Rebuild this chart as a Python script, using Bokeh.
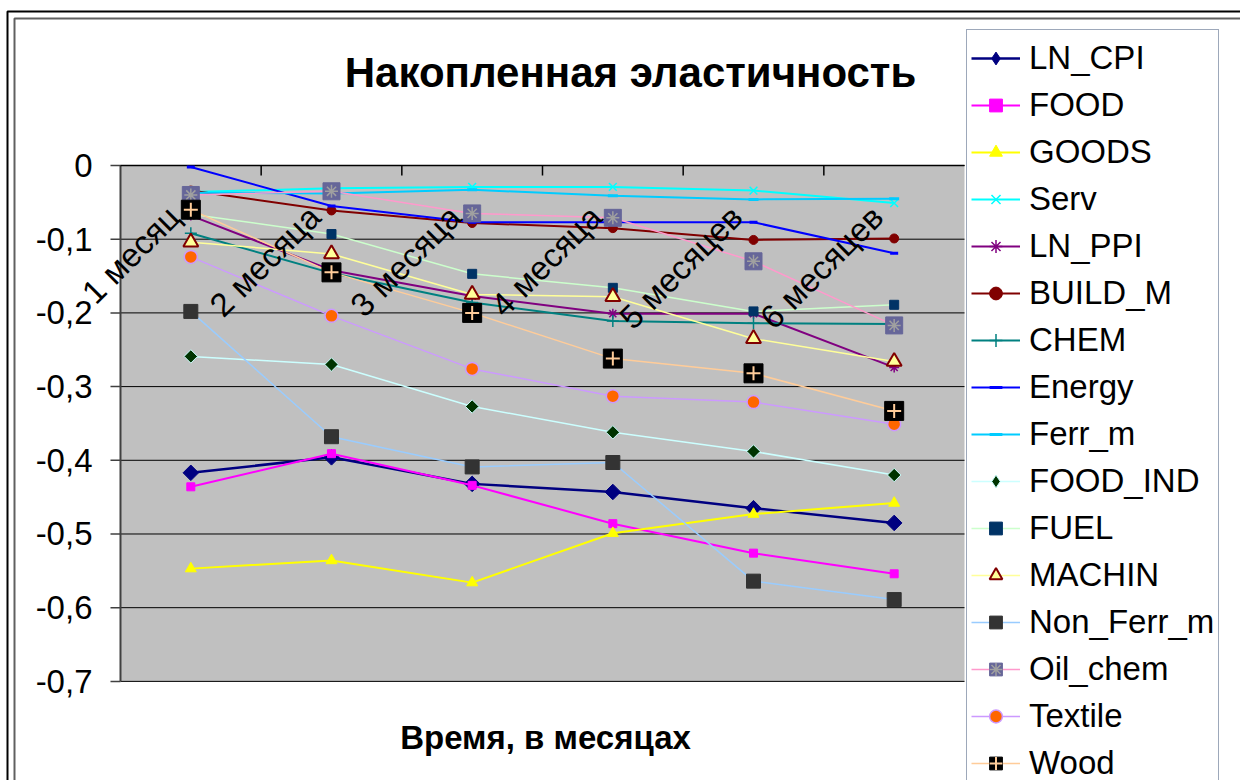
import math

from bokeh.core.properties import value
from bokeh.embed import file_html
from bokeh.models import BoxAnnotation, Label, Legend, LegendItem, Range1d
from bokeh.plotting import figure
from bokeh.resources import INLINE

# ---- data -------------------------------------------------------------
months = ["1 месяц", "2 месяца", "3 месяца", "4 месяца", "5 месяцев", "6 месяцев"]
y_ticks = [0.0, -0.1, -0.2, -0.3, -0.4, -0.5, -0.6, -0.7]

ln_cpi = [-0.417, -0.396, -0.432, -0.443, -0.465, -0.485]
food = [-0.436, -0.391, -0.434, -0.486, -0.526, -0.554]
goods = [-0.547, -0.536, -0.566, -0.499, -0.473, -0.458]
serv = [-0.036, -0.031, -0.029, -0.029, -0.034, -0.051]
ln_ppi = [-0.068, -0.142, -0.177, -0.201, -0.201, -0.274]
build_m = [-0.034, -0.061, -0.078, -0.085, -0.101, -0.099]
chem = [-0.092, -0.146, -0.186, -0.211, -0.214, -0.215]
energy = [-0.002, -0.055, -0.077, -0.077, -0.077, -0.119]
ferr_m = [-0.037, -0.038, -0.033, -0.041, -0.046, -0.045]
food_ind = [-0.259, -0.270, -0.327, -0.362, -0.388, -0.420]
fuel = [-0.066, -0.093, -0.147, -0.166, -0.198, -0.189]
machin = [-0.104, -0.120, -0.175, -0.178, -0.235, -0.266]
non_ferr_m = [-0.198, -0.368, -0.409, -0.403, -0.564, -0.589]
oil_chem = [-0.040, -0.035, -0.065, -0.071, -0.130, -0.217]
textile = [-0.124, -0.204, -0.276, -0.313, -0.321, -0.351]
wood = [-0.060, -0.145, -0.200, -0.262, -0.282, -0.333]

FONT = "Liberation Sans"
DIAMOND = math.pi / 4  # squares turned on their corner

# name, values, line colour, line width, marker layers, optional legend key
series = [
    ("LN_CPI", ln_cpi, "#000080", 2.5,
     [dict(marker="square", angle=DIAMOND, size=11, fill_color="#000080", line_color="#000080")],
     dict(marker="diamond", fill_color="#000080", line_color="#000080")),
    ("FOOD", food, "#FF00FF", 2, [dict(marker="square", size=8, fill_color="#FF00FF", line_color="#FF00FF")], None),
    ("GOODS", goods, "#FFFF00", 2, [dict(marker="triangle", size=11, fill_color="#FFFF00", line_color="#FFFF00")], None),
    ("Serv", serv, "#00FFFF", 2, [dict(marker="x", size=11, line_color="#00FFFF", line_width=1.5)], None),
    ("LN_PPI", ln_ppi, "#800080", 2, [dict(marker="asterisk", size=10, line_color="#800080", line_width=1.5)], None),
    ("BUILD_M", build_m, "#800000", 2, [dict(marker="circle", size=9, fill_color="#800000", line_color="#800000")], None),
    ("CHEM", chem, "#008080", 2, [dict(marker="cross", size=12, line_color="#008080", line_width=1.5)], None),
    ("Energy", energy, "#0000FF", 2, [dict(marker="dash", size=8, line_color="#0000FF", line_width=3)], None),
    ("Ferr_m", ferr_m, "#00CCFF", 2, [dict(marker="dash", size=10, line_color="#00CCFF", line_width=3)], None),
    ("FOOD_IND", food_ind, "#CCFFFF", 1.5,
     [dict(marker="square", angle=DIAMOND, size=9.5, fill_color="#003300", line_color="#CCFFFF", line_width=1)],
     dict(marker="diamond", fill_color="#003300", line_color="#CCFFFF", line_width=1)),
    ("FUEL", fuel, "#CCFFCC", 1.5, [dict(marker="square", size=9, fill_color="#003366", line_color="#003366")], None),
    ("MACHIN", machin, "#FFFF99", 1.5, [dict(marker="triangle", size=15, fill_color="#FFFF99", line_color="#800000", line_width=2)], None),
    ("Non_Ferr_m", non_ferr_m, "#99CCFF", 1.5, [dict(marker="square", size=14, fill_color="#333333", line_color="#333333")], None),
    ("Oil_chem", oil_chem, "#FF99CC", 1.5, [dict(marker="square", size=17, fill_color="#666699", line_color="#666699"),
                                            dict(marker="asterisk", size=13, line_color="#A0A0A0", line_width=1.5)], None),
    ("Textile", textile, "#CC99FF", 1.5, [dict(marker="circle", size=13, fill_color="#FF6600", line_color="#CC99FF", line_width=1.5)], None),
    ("Wood", wood, "#FFCC99", 1.5, [dict(marker="square", size=19, fill_color="#000000", line_color="#000000"),
                                    dict(marker="cross", size=14, line_color="#FFCC99", line_width=2)], None),
]

# category centres on the x scale (one unit per month)
xc = [i + 0.5 for i in range(len(months))]
n_cat = len(months)
y_top, y_bottom = y_ticks[0], y_ticks[-1]

# ---- figure: the frame spans the whole canvas; the plot area is drawn on it
p = figure(
    x_range=Range1d(-0.853, 7.962),
    y_range=Range1d(-0.8345, 0.2239),
    width=1240, height=780,
    output_backend="svg", toolbar_location=None,
    x_axis_location=None, y_axis_location=None,
    min_border=0,
    background_fill_color="white", border_fill_color="white",
)
p.outline_line_color = None
p.grid.visible = False

# grey plot area
p.quad(left=0, right=n_cat, bottom=y_bottom, top=y_top,
       fill_color="#C0C0C0", line_color=None)

# horizontal gridlines
p.segment(x0=[0] * len(y_ticks), x1=[n_cat] * len(y_ticks), y0=y_ticks, y1=y_ticks,
          line_color="black", line_width=1)

# value axis on the left edge, with outward ticks and comma decimals
p.segment(x0=[0], x1=[0], y0=[y_bottom], y1=[y_top], line_color="#404040", line_width=2)
p.ray(x=[0] * len(y_ticks), y=y_ticks, length=10, length_units="screen", angle=math.pi,
      line_color="#404040", line_width=1.5)
tick_labels = ["0" if abs(t) < 1e-9 else f"{t:.1f}".replace(".", ",") for t in y_ticks]
p.text(x=[0] * len(y_ticks), y=y_ticks, text=tick_labels, x_offset=-28,
       text_align="right", text_baseline="middle",
       text_font=value(FONT), text_font_size="33px", text_color="black")

# category axis on the zero line, ticks between the months
p.segment(x0=[0], x1=[n_cat], y0=[y_top], y1=[y_top], line_color="black", line_width=1.5)
p.ray(x=list(range(1, n_cat)), y=[y_top] * (n_cat - 1), length=10, length_units="screen",
      angle=-math.pi / 2, line_color="black", line_width=1.5)

no_points = [float("nan")] * n_cat  # legend-key renderers draw nothing in the plot

items = []
for name, vals, color, lw, layers, key in series:
    line = p.line(xc, vals, line_color=color, line_width=lw)
    marks = [p.scatter(xc, vals, **layer) for layer in layers]
    if key is not None:
        marks = [p.scatter(xc, no_points, **key)]
    items.append(LegendItem(label=name, renderers=[line] + marks))

# month labels, slanted at 45 degrees, under the zero axis
p.text(x=xc, y=[y_top] * n_cat, text=months, angle=math.pi / 4,
       text_align="right", text_baseline="middle", x_offset=-17, y_offset=46,
       text_font=value(FONT), text_font_size="33px", text_color="black")

legend = Legend(
    items=items, location=(966, -11),
    label_text_font=FONT, label_text_font_size="33px", label_text_color="black",
    label_height=47, glyph_height=32, glyph_width=49, label_standoff=9,
    spacing=0, padding=4, margin=0,
    border_line_color="#3C5275", border_line_width=1.5,
    background_fill_color="white", background_fill_alpha=1.0,
)
p.add_layout(legend, "center")

p.add_layout(Label(x=630, y=72, x_units="canvas", y_units="canvas",
                   text="Накопленная эластичность", text_align="center", text_baseline="middle",
                   text_font=FONT, text_font_size="42px", text_font_style="bold", text_color="black"))
p.add_layout(Label(x=545, y=737, x_units="canvas", y_units="canvas",
                   text="Время, в месяцах", text_align="center", text_baseline="middle",
                   text_font=FONT, text_font_size="33px", text_font_style="bold", text_color="black"))

# double frame around the chart
p.add_layout(BoxAnnotation(left=7, right=1400, top=11, bottom=1000,
                           left_units="canvas", right_units="canvas",
                           top_units="canvas", bottom_units="canvas",
                           fill_alpha=0, line_color="black", line_alpha=1.0, line_width=2))
p.add_layout(BoxAnnotation(left=14, right=1400, top=18, bottom=1000,
                           left_units="canvas", right_units="canvas",
                           top_units="canvas", bottom_units="canvas",
                           fill_alpha=0, line_color="#606060", line_alpha=1.0, line_width=2))

open("out.html", "w").write(file_html(p, INLINE))
